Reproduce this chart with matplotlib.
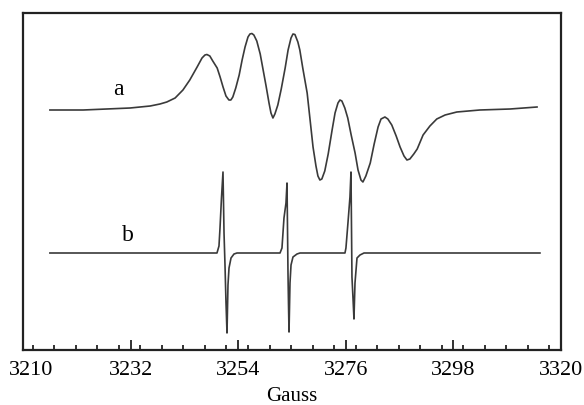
import matplotlib
matplotlib.use("Agg")
import matplotlib.pyplot as plt
import matplotlib.transforms as mtransforms
from matplotlib.ticker import MultipleLocator

# trace a: broad spectrum (field in G, signal relative to its baseline)
field_a = [3215.5, 3222.3, 3231.9, 3236.0, 3238.0, 3239.4, 3241.1, 3242.7,
           3244.1, 3245.6, 3246.6, 3247.2, 3247.6, 3248.2, 3248.8, 3249.7,
           3250.3, 3250.9, 3251.5, 3252.1, 3252.5, 3252.9, 3253.5, 3254.2,
           3254.8, 3255.4, 3256.0, 3256.4, 3256.8, 3257.2, 3257.8, 3258.5,
           3259.1, 3259.7, 3260.3, 3260.7, 3261.1, 3261.5, 3262.1, 3262.8,
           3263.6, 3264.2, 3264.8, 3265.2, 3265.6, 3266.2, 3266.6, 3267.2,
           3268.1, 3268.7, 3269.3, 3269.9, 3270.3, 3270.7, 3271.1, 3271.7,
           3272.4, 3273.2, 3273.8, 3274.4, 3274.8, 3275.2, 3275.8, 3276.4,
           3277.1, 3277.9, 3278.5, 3279.1, 3279.5, 3280.1, 3281.0, 3281.8,
           3282.6, 3283.2, 3284.0, 3284.6, 3285.4, 3286.3, 3287.1, 3287.9,
           3288.5, 3289.1, 3289.9, 3290.6, 3291.8, 3293.2, 3294.6, 3296.3,
           3298.7, 3303.4, 3309.6, 3315.1]
signal_a = [-2, -2, 0, 2, 4, 6, 10, 18,
            28, 41, 50, 53, 53.5, 52, 47, 40,
            31, 21, 12, 8, 8, 11, 20, 33,
            48, 61, 71, 74, 74.5, 73, 67, 54,
            38, 22, 5, -5, -10, -6, 3, 19,
            40, 58, 70, 74, 73.5, 66, 58, 40,
            15, -12, -39, -58, -68, -72, -71, -63,
            -46, -22, -5, 5, 8, 7, 0, -10,
            -27, -45, -62, -72, -74, -68, -55, -36,
            -19, -11, -9, -11, -17, -28, -39, -48,
            -52, -51, -46, -41, -27, -18, -11, -7,
            -4, -2, -1, 1]

# trace b: three sharp lines
field_b = [3215.5, 3249.66, 3250.07, 3250.28, 3250.58, 3250.89, 3251.10,
           3251.30, 3251.50, 3251.71, 3251.91, 3252.12, 3252.53, 3253.14,
           3253.75, 3262.55, 3262.95, 3263.36, 3263.77, 3263.98, 3264.18,
           3264.28, 3264.39, 3264.59, 3264.80, 3265.20, 3266.02, 3266.63,
           3275.83, 3276.03, 3276.44, 3276.85, 3277.06, 3277.26, 3277.47,
           3277.67, 3277.88, 3278.29, 3278.90, 3279.72, 3315.7]
signal_b = [0, 0, 7, 25, 55, 81, 20,
            -12, -49, -80, -32, -15, -5, -1,
            0, 0, 5, 35, 50, 70, -20,
            -50, -79, -30, -12, -4, -1, 0,
            0, 5, 30, 56, 81, -24, -45,
            -66, -30, -5, -2, 0, 0]

trace_labels = ["a", "b"]
x_ticks = [3210, 3232, 3254, 3276, 3298, 3320]

fig = plt.figure(figsize=(5.84, 4.05), dpi=100)
ax = fig.add_axes([0.0394, 0.1358, 0.9212, 0.8321])

off_a, off_b = 242, 97
line_color = "#3a3a3a"
ax.plot(field_a, [v + off_a for v in signal_a], color=line_color, lw=1.2)
ax.plot(field_b, [v + off_b for v in signal_b], color=line_color, lw=1.2)

serif = ["Liberation Serif", "DejaVu Serif"]
ax.text(3229.4, 261, trace_labels[0], family=serif, fontsize=17,
        ha="center", va="center")
ax.text(3231.5, 115, trace_labels[1], family=serif, fontsize=17,
        ha="center", va="center")

ax.set_xlim(3210, 3320)
ax.set_ylim(0, 337)
ax.set_xticks(x_ticks)
ax.xaxis.set_minor_locator(MultipleLocator(4.4))
ax.set_yticks([])
ax.tick_params(axis="x", which="both", direction="in", top=False,
               color="#222222", width=1.3)
ax.tick_params(axis="x", which="major", length=7.5, pad=8)
ax.tick_params(axis="x", which="minor", length=3.8)
labels = ax.get_xticklabels()
for lab in labels:
    lab.set_family(serif)
    lab.set_fontsize(16)
# first label sits a little right of its tick in the original
shift = mtransforms.ScaledTranslation(6 / 72, 0, fig.dpi_scale_trans)
labels[0].set_transform(labels[0].get_transform() + shift)
ax.set_xlabel("Gauss", family=serif, fontsize=15, labelpad=5)

for sp in ax.spines.values():
    sp.set_linewidth(1.6)
    sp.set_color("#222222")

fig.savefig("out.png", dpi=100)
